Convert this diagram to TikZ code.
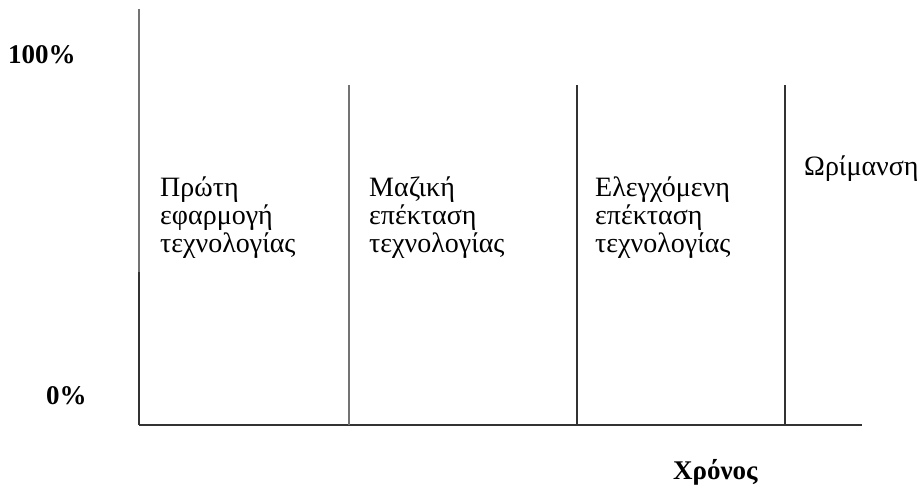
\documentclass[tikz,border=0pt]{standalone}
\usepackage{fontspec}
\setmainfont{Liberation Serif}
\begin{document}
\begin{tikzpicture}[x=1pt,y=-1pt]
\tikzset{
  axisline/.style={draw=black!80, line width=1.6pt},
  grayline/.style={draw=black!55, line width=1.4pt},
  darkline/.style={draw=black!80, line width=1.4pt},
  phase/.style={anchor=base west, inner sep=0pt, align=left, font=\fontsize{28}{28}\selectfont},
  ticklbl/.style={anchor=base west, inner sep=0pt, font=\bfseries\fontsize{27}{28}\selectfont}
}
\useasboundingbox (0,0) rectangle (918,489);
% axes
\coordinate (top) at (139,9);
\coordinate (mid) at (139,272);
\coordinate (O) at (139,425);
\coordinate (xend) at (862,425);
\draw[grayline] (top) -- (mid);
\draw[darkline] (mid) -- (O);
\draw[axisline] (O) -- (xend);
% dividers
\coordinate (d1t) at (349,85); \coordinate (d1b) at (349,425);
\coordinate (d2t) at (577,85); \coordinate (d2b) at (577,425);
\coordinate (d3t) at (785,85); \coordinate (d3b) at (785,425);
\draw[grayline] (d1t) -- (d1b);
\draw[darkline] (d2t) -- (d2b);
\draw[darkline] (d3t) -- (d3b);
% tick labels
\node[ticklbl] (p100) at (8,64) {100\%};
\node[ticklbl] (p0) at (46,404) {0\%};
\node[ticklbl] (time) at (673,479) {Χρόνος};
% phase labels (anchored at the baseline of the last line)
\node[phase] (ph1) at (160,252) {Πρώτη\\εφαρμογή\\τεχνολογίας};
\node[phase] (ph2) at (369,252) {Μαζική\\επέκταση\\τεχνολογίας};
\node[phase] (ph3) at (595,252) {Ελεγχόμενη\\επέκταση\\τεχνολογίας};
\node[phase] (ph4) at (804,176) {Ωρίμανση};
\end{tikzpicture}
\end{document}
